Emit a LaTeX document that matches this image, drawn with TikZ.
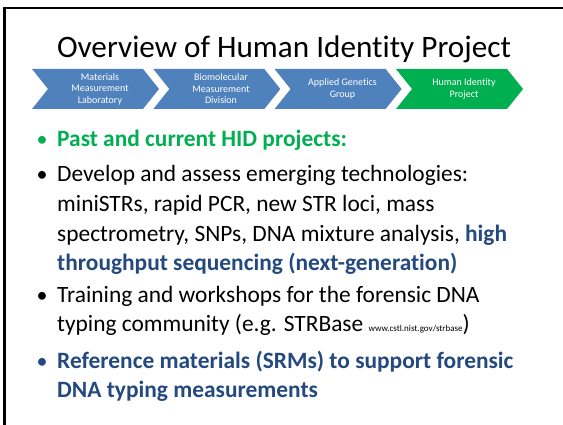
\documentclass[tikz,border=0pt]{standalone}
\usepackage{fontspec}
\setmainfont[Ligatures={NoCommon,NoContextual}]{Carlito}
\definecolor{chevblue}{HTML}{4F81BD}
\definecolor{chevgreen}{HTML}{00B050}
\definecolor{hidgreen}{HTML}{00B050}
\definecolor{hidblue}{HTML}{24497F}
\tikzset{
  chevtext/.style={text=white, align=center, inner sep=0pt, font=\fontsize{10}{11.5}\selectfont},
  bodyline/.style={anchor=base west, inner sep=0pt, font=\fontsize{23.4}{28}\selectfont},
  bulletmark/.style={anchor=base west, inner sep=0pt, font=\fontsize{22}{26}\selectfont},
  titletext/.style={anchor=base, inner sep=0pt, font=\fontsize{31.2}{37}\selectfont},
}
\newcommand\chevshape[2]{%
  \fill[#2] (#1,69) -- ++(111,0) -- ++(16,20) -- ++(-16,20) -- ++(-111,0) -- ++(16,-20) -- cycle;}
\begin{document}
\begin{tikzpicture}[x=1pt,y=-1pt]
\useasboundingbox (0,0) rectangle (563,425);
\fill[white] (0,0) rectangle (563,425);
\draw[line width=2.7pt] (4.3,425) -- (4.3,8) -- (563,8);

\node[titletext] (title) at (284,58) {Overview of Human Identity Project};

\chevshape{32}{chevblue}
\chevshape{153.3}{chevblue}
\chevshape{274.6}{chevblue}
\chevshape{396}{chevgreen}
\node[chevtext] (c1) at (100,89) {Materials\\Measurement\\Laboratory};
\node[chevtext] (c2) at (221,89) {Biomolecular\\Measurement\\Division};
\node[chevtext] (c3) at (342.5,89) {Applied Genetics\\Group};
\node[chevtext] (c4) at (464,89) {Human Identity\\Project};

\node[bulletmark, text=hidgreen] (b1) at (36.5,147) {•};
\node[bodyline, text=hidgreen] (l1) at (57,147) {\bfseries Past and current HID projects:};
\node[bulletmark] (b2) at (36.5,182) {•};
\node[bodyline] (l2) at (57,182) {Develop and assess emerging technologies:};
\node[bodyline] (l3) at (57,212) {miniSTRs, rapid PCR, new STR loci, mass};
\node[bodyline] (l4) at (57,241.5) {spectrometry, SNPs, DNA mixture analysis, \textcolor{hidblue}{\bfseries high}};
\node[bodyline, text=hidblue] (l5) at (57,271) {\bfseries throughput sequencing (next-generation)};
\node[bulletmark] (b3) at (36.5,302) {•};
\node[bodyline] (l6) at (57,302) {Training and workshops for the forensic DNA};
\node[bodyline] (l7) at (57,331) {typing community (e.g. STRBase {\fontsize{9}{10}\selectfont www.cstl.nist.gov/strbase})};
\node[bulletmark, text=hidblue] (b4) at (36.5,368) {•};
\node[bodyline, text=hidblue] (l8) at (57,368) {\bfseries Reference materials (SRMs) to support forensic};
\node[bodyline, text=hidblue] (l9) at (57,397) {\bfseries DNA typing measurements};
\end{tikzpicture}
\end{document}
